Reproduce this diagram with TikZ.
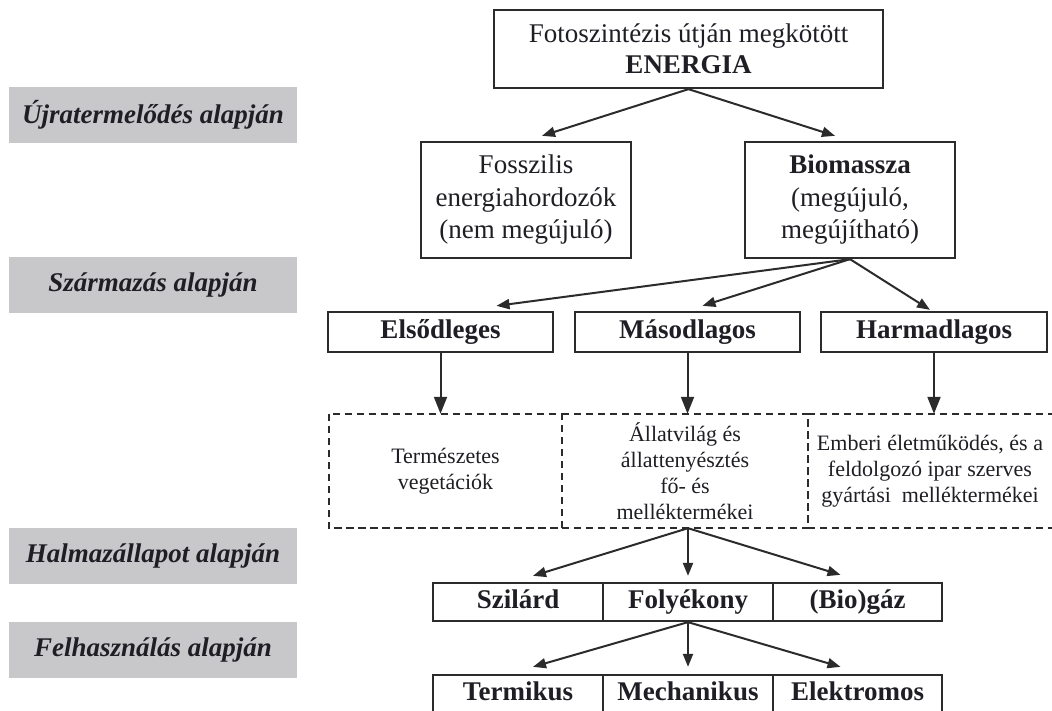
\documentclass[tikz,border=0pt]{standalone}
\usepackage{fontspec}
\setmainfont{Liberation Serif}
\usetikzlibrary{arrows.meta,calc}
\definecolor{ink}{HTML}{2B2B2B}
\definecolor{txt}{HTML}{1E1E24}
\definecolor{lblgray}{HTML}{C8C8CA}
\begin{document}
\begin{tikzpicture}[x=1pt,y=-1pt,
  box/.style={draw=ink, line width=2.3pt, inner sep=0pt, align=center, text=txt,
    font=\fontsize{27}{32.5}\selectfont},
  boldbox/.style={box, font=\fontsize{27}{32}\selectfont\bfseries,
    text height=18pt, text depth=6pt},
  dtext/.style={inner sep=0pt, align=center, text=txt, font=\fontsize{22}{26}\selectfont},
  dline/.style={draw=ink, line width=2pt, dash pattern=on 7.5pt off 4.5pt},
  side/.style={fill=lblgray, inner sep=0pt, minimum width=288pt, minimum height=56pt,
    text=txt, font=\fontsize{27}{30}\selectfont\bfseries\itshape},
  arr/.style={draw=ink, line width=2pt, -{Triangle[length=13pt,width=10pt]}},
  varr/.style={draw=ink, line width=2pt, -{Triangle[length=17pt,width=13pt]}}
]
\useasboundingbox (0,0) rectangle (1052,711);
\clip (0,0) rectangle (1052,711);

% side labels
\node[side] (s1) at (153,115) {Újratermelődés alapján};
\node[side] (s2) at (153,285) {Származás alapján};
\node[side] (s3) at (153,556) {Halmazállapot alapján};
\node[side] (s4) at (153,649.5) {Felhasználás alapján};

% main boxes
\node[box, minimum width=389pt, minimum height=78pt, font=\fontsize{27}{31}\selectfont] (top) at (688.5,49)
  {Fotoszintézis útján megkötött\\ \textbf{ENERGIA}};
\node[box, minimum width=210pt, minimum height=116pt] (foss) at (526,200)
  {Fosszilis\\energiahordozók\\(nem megújuló)};
\node[box, minimum width=210pt, minimum height=116pt] (bio) at (850,200)
  {\textbf{Biomassza}\\(megújuló,\\megújítható)};

\node[boldbox, minimum width=225pt, minimum height=40pt] (els) at (440.5,332) {Elsődleges};
\node[boldbox, minimum width=225pt, minimum height=40pt] (mas) at (687.5,332) {Másodlagos};
\node[boldbox, minimum width=226pt, minimum height=40pt] (har) at (934,332) {Harmadlagos};

% dashed boxes
\node[dtext, minimum width=233pt, minimum height=114pt] (d1) at (445.5,471)
  {Természetes\\vegetációk};
\node[dtext, minimum width=246pt, minimum height=114pt] (d2) at (685,471)
  {Állatvilág és\\állattenyésztés\\fő- és\\melléktermékei};
\node[dtext, minimum width=244pt, minimum height=114pt] (d3) at (930,471)
  {Emberi életműködés, és a\\feldolgozó ipar szerves\\gyártási\ \ melléktermékei};
\draw[dline] (d1.north west) rectangle (d1.south east);
\draw[dline] (d2.north west) -- (d2.north east) -- (d2.south east) -- (d2.south west);
\draw[dline] (d3.north west) -- (d3.north east);
\draw[dline] (d3.south west) -- (d3.south east);

% state row
\node[boldbox, minimum width=170pt, minimum height=38pt] (szil) at (518,602) {Szilárd};
\node[boldbox, minimum width=170pt, minimum height=38pt] (foly) at (688,602) {Folyékony};
\node[boldbox, minimum width=169pt, minimum height=38pt] (biog) at (857.5,602) {(Bio)gáz};

% use row
\node[boldbox, minimum width=170pt, minimum height=38pt] (term) at (518,694) {Termikus};
\node[boldbox, minimum width=170pt, minimum height=38pt] (mech) at (688,694) {Mechanikus};
\node[boldbox, minimum width=169pt, minimum height=38pt] (elek) at (857.5,694) {Elektromos};

% connectors
\draw[arr] (top.south) -- ($(foss.north)+(16,-5)$);
\draw[arr] (top.south) -- ($(bio.north)+(-15,-5)$);

\draw[arr] (bio.south) -- ($(els.north)+(56,-5)$);
\draw[arr] (bio.south) -- ($(mas.north)+(15,-5)$);
\draw[arr] (bio.south) -- ($(har.north)+(-4,-1)$);

\draw[varr] (els.south) -- (els.south |- d1.north);
\draw[varr] (mas.south) -- (mas.south |- d2.north);
\draw[varr] (har.south) -- (har.south |- d3.north);

\coordinate (d2out) at (foly.north |- d2.south);
\draw[arr] (d2out) -- ($(szil.north)+(15,-6)$);
\draw[arr] (d2out) -- ($(foly.north)+(0,-6)$);
\draw[arr] (d2out) -- ($(biog.north)+(-17,-7)$);

\draw[arr] (foly.south) -- ($(term.north)+(15,-7)$);
\draw[arr] (foly.south) -- ($(mech.north)+(0,-7)$);
\draw[arr] (foly.south) -- ($(elek.north)+(-17,-7)$);
\end{tikzpicture}
\end{document}
